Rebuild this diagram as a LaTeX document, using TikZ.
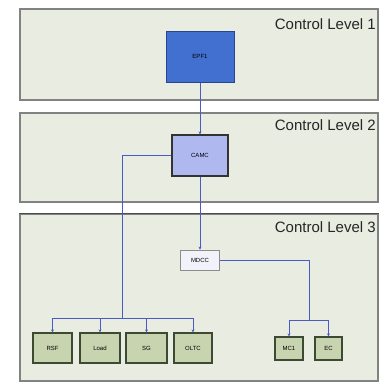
\documentclass[tikz,border=0pt]{standalone}
\usepackage{fontspec}
\setmainfont{Liberation Sans}
\definecolor{lvlfill}{RGB}{233,236,224}
\definecolor{lvlgray}{RGB}{130,130,130}
\definecolor{ctblue}{RGB}{66,112,208}
\definecolor{ctbluedk}{RGB}{40,70,140}
\definecolor{ctlav}{RGB}{176,184,240}
\definecolor{ctpale}{RGB}{242,242,250}
\definecolor{ctolive}{RGB}{200,211,176}
\definecolor{ctolivedk}{RGB}{60,74,52}
\definecolor{ctline}{RGB}{74,90,200}
\usetikzlibrary{arrows.meta,positioning}

\begin{document}
\begin{tikzpicture}[
  x=1pt,y=-1pt,
  every node/.style={font=\fontsize{6}{7}\selectfont},
  lvlbox/.style={draw=lvlgray,fill=lvlfill,line width=1.2pt,minimum width=358pt,inner sep=0pt},
  lvltitle/.style={font=\fontsize{15}{17}\selectfont,text=black!85,anchor=east,inner sep=0pt},
  devbox/.style={draw=ctolivedk,fill=ctolive,line width=1.1pt,minimum height=30pt,inner sep=1pt},
  link/.style={ctline,line width=0.8pt},
  feed/.style={-{Stealth[length=3pt,width=3pt]},ctline,line width=0.8pt},
]
  \useasboundingbox (0,0) rectangle (383,384);

  % Control levels
  \node[lvlbox,minimum height=91pt] (lvl1) at (199,54.5) {};
  \node[lvlbox,minimum height=89pt] (lvl2) at (199,157.5) {};
  \node[lvlbox,minimum height=167pt] (lvl3) at (199,297.5) {};
  \draw[line width=1.8pt,black!70] (lvl3.north west) -- (lvl3.north east);
  \node[lvltitle] (t1) at (376,24) {Control Level 1};
  \node[lvltitle] (t2) at (376,125) {Control Level 2};
  \node[lvltitle] (t3) at (376,227) {Control Level 3};

  % Controllers
  \node[draw=ctbluedk,fill=ctblue,line width=1pt,minimum width=68pt,minimum height=51pt] (epf) at (200,56.5) {EPF1};
  \node[draw=black!80,fill=ctlav,line width=1.2pt,minimum width=56pt,minimum height=41pt] (camc) at (200,155.5) {CAMC};
  \node[draw=black!45,fill=ctpale,line width=0.8pt,minimum width=39pt,minimum height=20pt] (mdcc) at (200,260) {MDCC};

  % Devices
  \node[devbox,minimum width=39pt] (rsf) at (52.5,348) {RSF};
  \node[devbox,minimum width=40pt] (load) at (100,348) {Load};
  \node[devbox,minimum width=41pt] (sg) at (146.5,348) {SG};
  \node[devbox,minimum width=38pt] (oltc) at (193,348) {OLTC};
  \node[devbox,minimum width=28pt,minimum height=23pt] (mc1) at (289,348.5) {MC1};
  \node[devbox,minimum width=27pt,minimum height=23pt] (ec) at (328.5,348.5) {EC};

  % Buses
  \coordinate (busL) at (122,318);
  \coordinate (busR) at (309,320);

  % Arrows
  \draw[feed] (epf.south) -- (camc.north);
  \draw[feed] (camc.south) -- (mdcc.north);
  \draw[link] (camc.west) -| (busL);
  \draw[link] (rsf.north |- busL) -- (oltc.north |- busL);
  \foreach \d in {rsf,load,sg,oltc}
    \draw[feed] (\d.north |- busL) -- (\d.north);
  \draw[link] (mdcc.east) -| (busR);
  \draw[link] (mc1.north |- busR) -- (ec.north |- busR);
  \foreach \d in {mc1,ec}
    \draw[feed] (\d.north |- busR) -- (\d.north);
\end{tikzpicture}
\end{document}
